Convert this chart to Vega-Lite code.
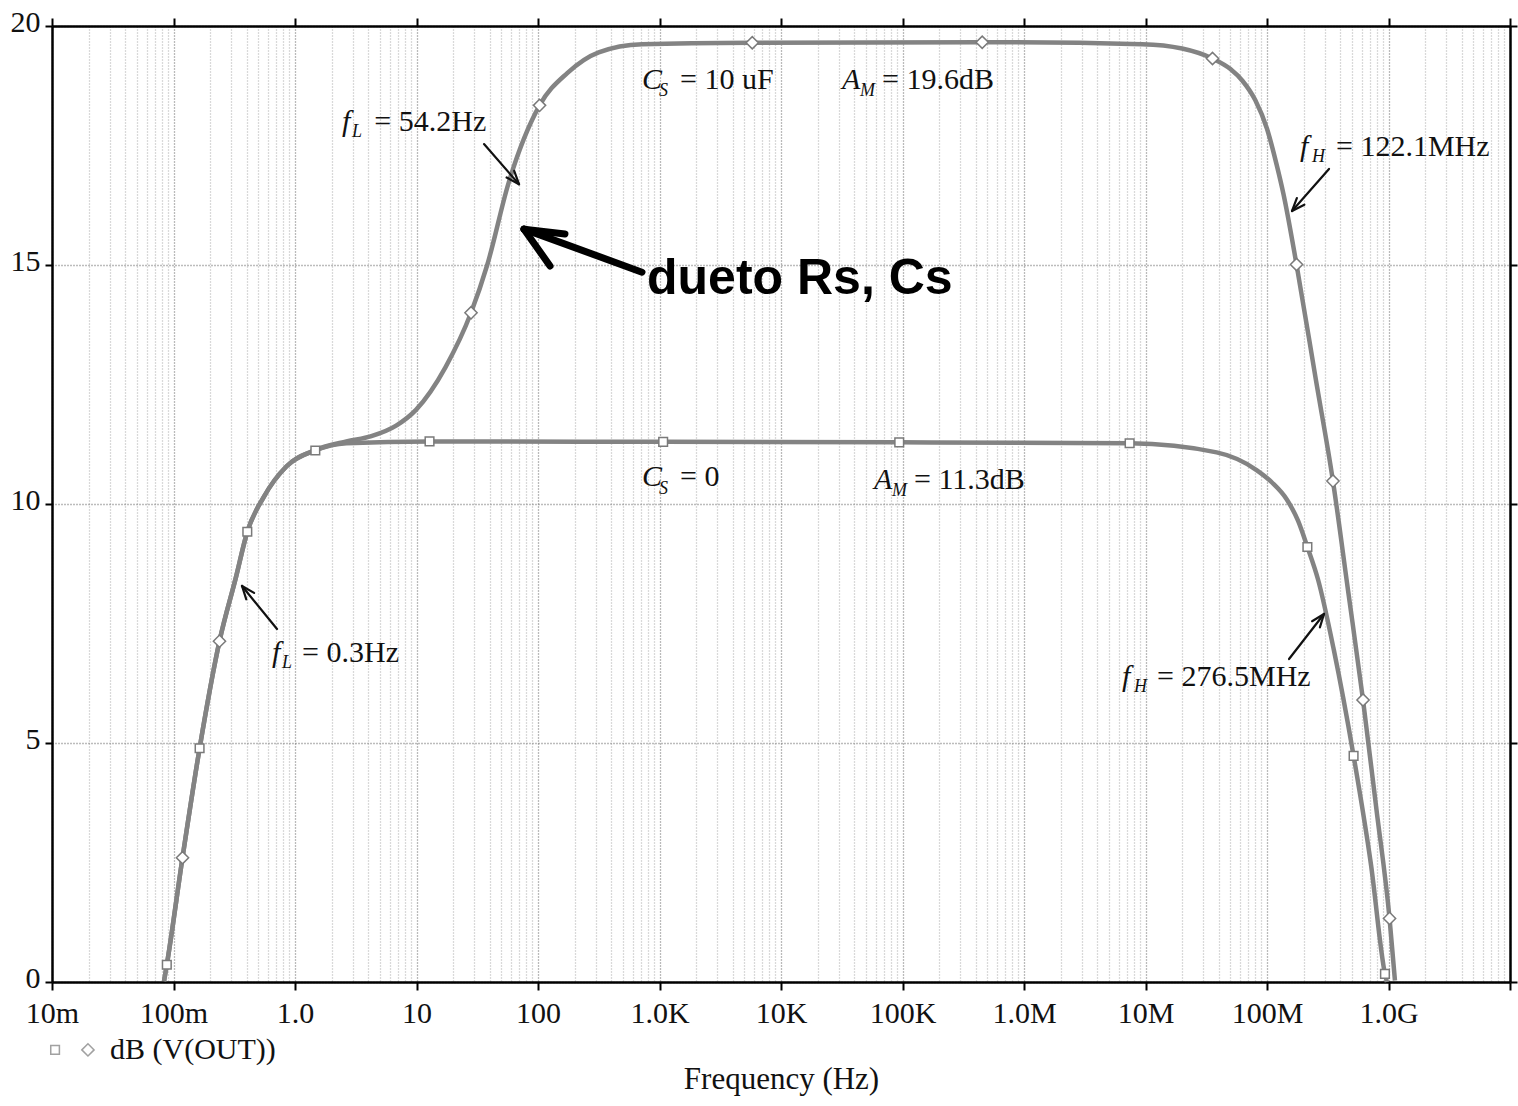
{
  "$schema": "https://vega.github.io/schema/vega-lite/v6.json",
  "width": 1458,
  "height": 956,
  "autosize": {"type": "none"},
  "padding": {"left": 52, "top": 26, "right": 8, "bottom": 124},
  "background": "#ffffff",
  "config": {"view": {"stroke": null}},
  "datasets": {
    "curves": [
      {"series": "Cs10", "f": 0.0836, "db": 0.02, "m": 0},
      {"series": "Cs10", "f": 0.0881, "db": 0.36, "m": 0},
      {"series": "Cs10", "f": 0.1186, "db": 2.60, "m": 1},
      {"series": "Cs10", "f": 0.164, "db": 4.89, "m": 0},
      {"series": "Cs10", "f": 0.239, "db": 7.13, "m": 1},
      {"series": "Cs10", "f": 0.326, "db": 8.46, "m": 0},
      {"series": "Cs10", "f": 0.405, "db": 9.42, "m": 0},
      {"series": "Cs10", "f": 0.551, "db": 10.14, "m": 0},
      {"series": "Cs10", "f": 0.853, "db": 10.79, "m": 0},
      {"series": "Cs10", "f": 1.47, "db": 11.13, "m": 0},
      {"series": "Cs10", "f": 2.65, "db": 11.31, "m": 0},
      {"series": "Cs10", "f": 4.25, "db": 11.42, "m": 0},
      {"series": "Cs10", "f": 6.8, "db": 11.64, "m": 0},
      {"series": "Cs10", "f": 9.9, "db": 11.97, "m": 0},
      {"series": "Cs10", "f": 17.3, "db": 12.86, "m": 0},
      {"series": "Cs10", "f": 28.1, "db": 14.0, "m": 1},
      {"series": "Cs10", "f": 38.2, "db": 15.0, "m": 0},
      {"series": "Cs10", "f": 57.3, "db": 16.72, "m": 0},
      {"series": "Cs10", "f": 103, "db": 18.34, "m": 1},
      {"series": "Cs10", "f": 175, "db": 19.02, "m": 0},
      {"series": "Cs10", "f": 316, "db": 19.45, "m": 0},
      {"series": "Cs10", "f": 719, "db": 19.62, "m": 0},
      {"series": "Cs10", "f": 5800, "db": 19.65, "m": 1},
      {"series": "Cs10", "f": 453000, "db": 19.66, "m": 1},
      {"series": "Cs10", "f": 9400000, "db": 19.62, "m": 0},
      {"series": "Cs10", "f": 20000000, "db": 19.53, "m": 0},
      {"series": "Cs10", "f": 35600000, "db": 19.32, "m": 1},
      {"series": "Cs10", "f": 50000000, "db": 19.1, "m": 0},
      {"series": "Cs10", "f": 63000000, "db": 18.85, "m": 0},
      {"series": "Cs10", "f": 80000000, "db": 18.45, "m": 0},
      {"series": "Cs10", "f": 100000000, "db": 17.85, "m": 0},
      {"series": "Cs10", "f": 120000000, "db": 17.1, "m": 0},
      {"series": "Cs10", "f": 137000000, "db": 16.47, "m": 0},
      {"series": "Cs10", "f": 175000000, "db": 15.01, "m": 1},
      {"series": "Cs10", "f": 252000000, "db": 12.61, "m": 0},
      {"series": "Cs10", "f": 349000000, "db": 10.48, "m": 1},
      {"series": "Cs10", "f": 463000000, "db": 8.22, "m": 0},
      {"series": "Cs10", "f": 617000000, "db": 5.90, "m": 1},
      {"series": "Cs10", "f": 794000000, "db": 3.63, "m": 0},
      {"series": "Cs10", "f": 1020000000, "db": 1.33, "m": 1},
      {"series": "Cs10", "f": 1130000000, "db": 0.03, "m": 0},
      {"series": "Cs0", "f": 0.0836, "db": 0.02, "m": 0},
      {"series": "Cs0", "f": 0.0881, "db": 0.36, "m": 1},
      {"series": "Cs0", "f": 0.1186, "db": 2.60, "m": 0},
      {"series": "Cs0", "f": 0.164, "db": 4.89, "m": 1},
      {"series": "Cs0", "f": 0.239, "db": 7.13, "m": 0},
      {"series": "Cs0", "f": 0.326, "db": 8.46, "m": 0},
      {"series": "Cs0", "f": 0.405, "db": 9.42, "m": 1},
      {"series": "Cs0", "f": 0.551, "db": 10.14, "m": 0},
      {"series": "Cs0", "f": 0.853, "db": 10.79, "m": 0},
      {"series": "Cs0", "f": 1.47, "db": 11.12, "m": 1},
      {"series": "Cs0", "f": 2.65, "db": 11.27, "m": 0},
      {"series": "Cs0", "f": 12.8, "db": 11.31, "m": 1},
      {"series": "Cs0", "f": 1072, "db": 11.30, "m": 1},
      {"series": "Cs0", "f": 94000, "db": 11.29, "m": 1},
      {"series": "Cs0", "f": 7400000, "db": 11.27, "m": 1},
      {"series": "Cs0", "f": 38500000, "db": 11.08, "m": 0},
      {"series": "Cs0", "f": 82000000, "db": 10.71, "m": 0},
      {"series": "Cs0", "f": 110000000, "db": 10.45, "m": 0},
      {"series": "Cs0", "f": 146000000, "db": 10.09, "m": 0},
      {"series": "Cs0", "f": 180000000, "db": 9.65, "m": 0},
      {"series": "Cs0", "f": 215000000, "db": 9.1, "m": 1},
      {"series": "Cs0", "f": 263000000, "db": 8.42, "m": 0},
      {"series": "Cs0", "f": 354000000, "db": 6.96, "m": 0},
      {"series": "Cs0", "f": 516000000, "db": 4.73, "m": 1},
      {"series": "Cs0", "f": 718000000, "db": 2.45, "m": 0},
      {"series": "Cs0", "f": 935000000, "db": 0.17, "m": 1},
      {"series": "Cs0", "f": 970000000, "db": 0.0, "m": 0}
    ],
    "notes": [
      {"kind": "sym", "text": "C", "f": 717.8, "db": 18.68},
      {"kind": "sym", "text": "A", "f": 31769, "db": 18.68},
      {"kind": "sym", "text": "f", "f": 2.438, "db": 17.80},
      {"kind": "sym", "text": "f", "f": 187100000, "db": 17.28},
      {"kind": "sym", "text": "C", "f": 717.8, "db": 10.38},
      {"kind": "sym", "text": "A", "f": 58210, "db": 10.31},
      {"kind": "sym", "text": "f", "f": 0.6471, "db": 6.69},
      {"kind": "sym", "text": "f", "f": 6412000, "db": 6.19},
      {"kind": "sub", "text": "S", "f": 990.8, "db": 18.54},
      {"kind": "sub", "text": "M", "f": 44668, "db": 18.54},
      {"kind": "sub", "text": "L", "f": 2.944, "db": 17.68},
      {"kind": "sub", "text": "H", "f": 234400000, "db": 17.15},
      {"kind": "sub", "text": "S", "f": 990.8, "db": 10.21},
      {"kind": "sub", "text": "M", "f": 82035, "db": 10.17},
      {"kind": "sub", "text": "L", "f": 0.7816, "db": 6.57},
      {"kind": "sub", "text": "H", "f": 8035000, "db": 6.07},
      {"kind": "rest", "text": "= 10 uF", "f": 1475.7, "db": 18.68},
      {"kind": "rest", "text": "= 19.6dB", "f": 67764, "db": 18.68},
      {"kind": "rest", "text": "= 54.2Hz", "f": 4.5, "db": 17.80},
      {"kind": "rest", "text": "= 122.1MHz", "f": 369800000, "db": 17.28},
      {"kind": "rest", "text": "= 0", "f": 1475.7, "db": 10.38},
      {"kind": "rest", "text": "= 11.3dB", "f": 124451, "db": 10.31},
      {"kind": "rest", "text": "= 0.3Hz", "f": 1.1429, "db": 6.69},
      {"kind": "rest", "text": "= 276.5MHz", "f": 12445000, "db": 6.19},
      {"kind": "hand", "text": "dueto Rs, Cs", "f": 788.9, "db": 14.39},
      {"kind": "legend", "text": "dB (V(OUT))", "f": 0.030, "db": -1.42}
    ],
    "arrows": [
      {"kind": "thin", "f": 35.95, "db": 17.53, "f2": 69.76, "db2": 16.69},
      {"kind": "thin", "f": 55.17, "db": 16.83, "f2": 69.76, "db2": 16.69},
      {"kind": "thin", "f": 63.68, "db": 16.97, "f2": 69.76, "db2": 16.69},
      {"kind": "thin", "f": 323800000, "db": 17.01, "f2": 160660000, "db2": 16.13},
      {"kind": "thin", "f": 176100000, "db": 16.40, "f2": 160660000, "db2": 16.13},
      {"kind": "thin", "f": 203000000, "db": 16.26, "f2": 160660000, "db2": 16.13},
      {"kind": "thin", "f": 0.7111, "db": 7.385, "f2": 0.3663, "db2": 8.285},
      {"kind": "thin", "f": 0.4605, "db": 8.14, "f2": 0.3663, "db2": 8.285},
      {"kind": "thin", "f": 0.3973, "db": 8.006, "f2": 0.3663, "db2": 8.285},
      {"kind": "thin", "f": 151800000, "db": 6.757, "f2": 294500000, "db2": 7.699},
      {"kind": "thin", "f": 272500000, "db": 7.418, "f2": 294500000, "db2": 7.699},
      {"kind": "thin", "f": 235000000, "db": 7.548, "f2": 294500000, "db2": 7.699},
      {"kind": "thick", "f": 717.8, "db": 14.85, "f2": 76.7, "db2": 15.75},
      {"kind": "thick", "f": 125.6, "db": 14.98, "f2": 76.7, "db2": 15.75},
      {"kind": "thick", "f": 166.7, "db": 15.65, "f2": 76.7, "db2": 15.75}
    ],
    "legendkey": [
      {"series": "Cs0", "f": 0.0106, "db": -1.42},
      {"series": "Cs10", "f": 0.01977, "db": -1.42}
    ]
  },
  "layer": [
    {
      "data": {"name": "curves"},
      "mark": {"type": "line", "color": "#838383", "strokeWidth": 4.5, "interpolate": "monotone"},
      "encoding": {
        "x": {
          "field": "f", "type": "quantitative",
          "scale": {"type": "log", "domain": [0.01, 10000000000]},
          "axis": {
            "orient": "bottom",
            "values": [0.01,0.02,0.03,0.04,0.05,0.06,0.07,0.08,0.09,0.1,0.2,0.3,0.4,0.5,0.6,0.7,0.8,0.9,1,2,3,4,5,6,7,8,9,10,20,30,40,50,60,70,80,90,100,200,300,400,500,600,700,800,900,1000,2000,3000,4000,5000,6000,7000,8000,9000,1e4,2e4,3e4,4e4,5e4,6e4,7e4,8e4,9e4,1e5,2e5,3e5,4e5,5e5,6e5,7e5,8e5,9e5,1e6,2e6,3e6,4e6,5e6,6e6,7e6,8e6,9e6,1e7,2e7,3e7,4e7,5e7,6e7,7e7,8e7,9e7,1e8,2e8,3e8,4e8,5e8,6e8,7e8,8e8,9e8,1e9,2e9,3e9,4e9,5e9,6e9,7e9,8e9,9e9,1e10],
            "labelExpr": "abs(log(datum.value)/LN10 - round(log(datum.value)/LN10)) > 0.000001 ? '' : datum.value < 0.05 ? '10m' : datum.value < 0.5 ? '100m' : datum.value < 5 ? '1.0' : datum.value < 50 ? '10' : datum.value < 500 ? '100' : datum.value < 5000 ? '1.0K' : datum.value < 50000 ? '10K' : datum.value < 500000 ? '100K' : datum.value < 5000000 ? '1.0M' : datum.value < 50000000 ? '10M' : datum.value < 500000000 ? '100M' : datum.value < 5000000000 ? '1.0G' : ''",
            "labelOverlap": false,
            "labelFlush": false,
            "labelBound": false,
            "labelFont": "Liberation Serif",
            "labelFontSize": 30,
            "labelColor": "#111111",
            "labelPadding": 8,
            "tickColor": "#000000",
            "tickSize": 8,
            "tickWidth": 2,
            "tickOpacity": {"condition": {"test": "abs(log(datum.value)/LN10 - round(log(datum.value)/LN10)) < 0.000001", "value": 1}, "value": 0},
            "grid": true,
            "gridColor": {"condition": {"test": "abs(log(datum.value)/LN10 - round(log(datum.value)/LN10)) < 0.000001", "value": "#777777"}, "value": "#b4b4b4"},
            "gridDash": [1, 2],
            "gridWidth": 1.3,
            "domainColor": "#000000",
            "domainWidth": 2.5,
            "title": "Frequency (Hz)",
            "titleFont": "Liberation Serif",
            "titleFontSize": 31,
            "titleFontWeight": "normal",
            "titleColor": "#111111",
            "titlePadding": 36
          }
        },
        "y": {
          "field": "db", "type": "quantitative",
          "scale": {"domain": [0, 20], "nice": false, "zero": false},
          "axis": {
            "orient": "left",
            "values": [0, 5, 10, 15, 20],
            "labelFont": "Liberation Serif",
            "labelFontSize": 30,
            "labelColor": "#111111",
            "labelPadding": 5,
            "labelOffset": -4,
            "tickColor": "#000000",
            "tickSize": 7,
            "tickWidth": 2,
            "grid": true,
            "gridColor": "#7a7a7a",
            "gridDash": [1, 2],
            "gridWidth": 1.3,
            "domainColor": "#000000",
            "domainWidth": 2.5,
            "title": null
          }
        },
        "detail": {"field": "series", "type": "nominal"}
      }
    },
    {
      "data": {"name": "curves"},
      "transform": [{"filter": "datum.m == 1"}],
      "mark": {"type": "point", "filled": true, "fill": "#ffffff", "stroke": "#7a7a7a", "strokeWidth": 1.5, "opacity": 1},
      "encoding": {
        "x": {
          "field": "f", "type": "quantitative",
          "axis": {
            "orient": "top",
            "values": [0.01,0.1,1,10,100,1000,10000,100000,1000000,10000000,100000000,1000000000,10000000000],
            "labels": false, "grid": false,
            "tickColor": "#000000", "tickSize": 8, "tickWidth": 2,
            "domainColor": "#000000", "domainWidth": 2.5,
            "title": null
          }
        },
        "y": {
          "field": "db", "type": "quantitative",
          "axis": {
            "orient": "right",
            "values": [0, 5, 10, 15, 20],
            "labels": false, "grid": false,
            "tickColor": "#000000", "tickSize": 7, "tickWidth": 2,
            "domainColor": "#000000", "domainWidth": 2.5,
            "title": null
          }
        },
        "shape": {"field": "series", "type": "nominal", "scale": {"domain": ["Cs0", "Cs10"], "range": ["square", "diamond"]}, "legend": null},
        "size": {"field": "series", "type": "nominal", "scale": {"domain": ["Cs0", "Cs10"], "range": [75, 150]}, "legend": null}
      }
    },
    {
      "data": {"name": "arrows"},
      "transform": [{"filter": "datum.kind == 'thin'"}],
      "mark": {"type": "rule", "color": "#111111", "strokeWidth": 2.2, "strokeCap": "round"},
      "encoding": {
        "x": {"field": "f", "type": "quantitative", "axis": null},
        "y": {"field": "db", "type": "quantitative", "axis": null},
        "x2": {"field": "f2"},
        "y2": {"field": "db2"}
      }
    },
    {
      "data": {"name": "arrows"},
      "transform": [{"filter": "datum.kind == 'thick'"}],
      "mark": {"type": "rule", "color": "#000000", "strokeWidth": 7, "strokeCap": "round"},
      "encoding": {
        "x": {"field": "f", "type": "quantitative", "axis": null},
        "y": {"field": "db", "type": "quantitative", "axis": null},
        "x2": {"field": "f2"},
        "y2": {"field": "db2"}
      }
    },
    {
      "data": {"name": "notes"},
      "transform": [{"filter": "datum.kind == 'sym'"}],
      "mark": {"type": "text", "align": "left", "baseline": "alphabetic", "font": "Liberation Serif", "fontStyle": "italic", "fontSize": 30, "color": "#111111"},
      "encoding": {
        "x": {"field": "f", "type": "quantitative", "axis": null},
        "y": {"field": "db", "type": "quantitative", "axis": null},
        "text": {"field": "text"}
      }
    },
    {
      "data": {"name": "notes"},
      "transform": [{"filter": "datum.kind == 'sub'"}],
      "mark": {"type": "text", "align": "left", "baseline": "alphabetic", "font": "Liberation Serif", "fontStyle": "italic", "fontSize": 18, "color": "#111111"},
      "encoding": {
        "x": {"field": "f", "type": "quantitative", "axis": null},
        "y": {"field": "db", "type": "quantitative", "axis": null},
        "text": {"field": "text"}
      }
    },
    {
      "data": {"name": "notes"},
      "transform": [{"filter": "datum.kind == 'rest'"}],
      "mark": {"type": "text", "align": "left", "baseline": "alphabetic", "font": "Liberation Serif", "fontSize": 30, "color": "#111111"},
      "encoding": {
        "x": {"field": "f", "type": "quantitative", "axis": null},
        "y": {"field": "db", "type": "quantitative", "axis": null},
        "text": {"field": "text"}
      }
    },
    {
      "data": {"name": "notes"},
      "transform": [{"filter": "datum.kind == 'hand'"}],
      "mark": {"type": "text", "align": "left", "baseline": "alphabetic", "font": "Liberation Sans", "fontWeight": "bold", "fontSize": 50, "color": "#000000"},
      "encoding": {
        "x": {"field": "f", "type": "quantitative", "axis": null},
        "y": {"field": "db", "type": "quantitative", "axis": null},
        "text": {"field": "text"}
      }
    },
    {
      "data": {"name": "notes"},
      "transform": [{"filter": "datum.kind == 'legend'"}],
      "mark": {"type": "text", "align": "left", "baseline": "middle", "font": "Liberation Serif", "fontSize": 30, "color": "#111111"},
      "encoding": {
        "x": {"field": "f", "type": "quantitative", "axis": null},
        "y": {"field": "db", "type": "quantitative", "axis": null},
        "text": {"field": "text"}
      }
    },
    {
      "data": {"name": "legendkey"},
      "mark": {"type": "point", "filled": true, "fill": "#ffffff", "stroke": "#7a7a7a", "strokeWidth": 1.5},
      "encoding": {
        "x": {"field": "f", "type": "quantitative", "axis": null},
        "y": {"field": "db", "type": "quantitative", "axis": null},
        "shape": {"field": "series", "type": "nominal", "legend": null},
        "size": {"field": "series", "type": "nominal", "legend": null}
      }
    }
  ],
  "resolve": {"axis": {"x": "independent", "y": "independent"}}
}
